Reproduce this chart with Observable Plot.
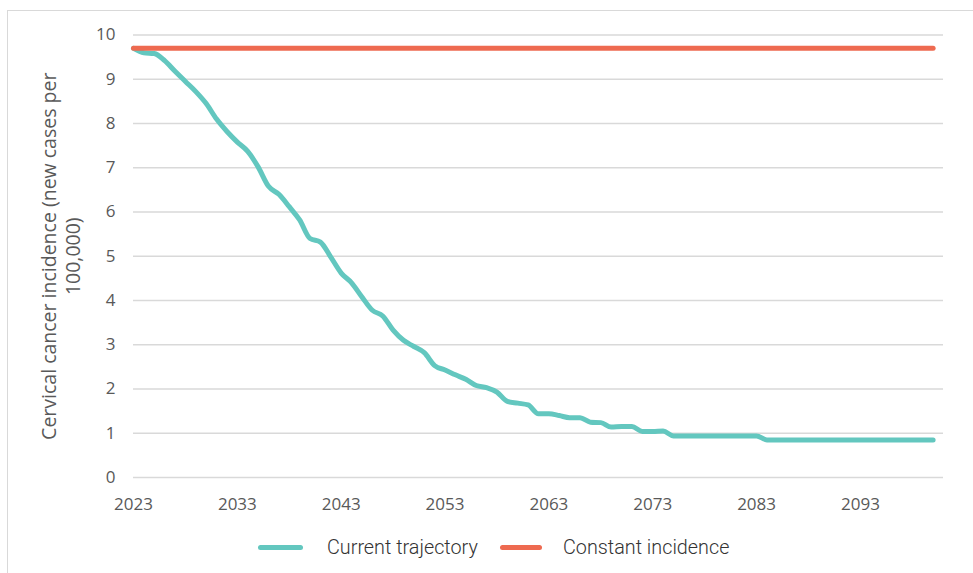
<!DOCTYPE html>
<html><head><meta charset="utf-8">
<script src="https://cdn.jsdelivr.net/npm/d3@7"></script>
<script src="https://cdn.jsdelivr.net/npm/@observablehq/plot@0.6"></script>
<style>
html,body{margin:0;padding:0;background:#fff}
body{width:973px;height:573px;overflow:hidden;position:relative;font-family:"Open Sans",sans-serif}
#frame{position:absolute;left:7px;top:10px;width:990px;height:600px;border-left:1.5px solid #d9d9d9;border-top:1.5px solid #d9d9d9;box-sizing:border-box}
#chart{position:absolute;left:0;top:0}
.sw{position:absolute;height:5px;border-radius:3px;top:545px}
.lt{position:absolute;top:536px;font-family:Roboto,sans-serif;font-weight:300;font-size:19.8px;color:#333;line-height:24px;white-space:nowrap}
</style>
</head><body>
<div id="frame"></div>
<div id="chart"></div>
<div class="sw" style="left:258px;width:45px;background:#63c7bf"></div>
<div class="lt" style="left:327px">Current trajectory</div>
<div class="sw" style="left:500px;width:42px;background:#ee6a50"></div>
<div class="lt" style="left:563px">Constant incidence</div>
<script>
const startYear = 2023;
const endYear = 2100;
const years = d3.range(startYear, endYear + 1);
const currentTrajectory = [
  9.70, 9.60, 9.58, 9.42, 9.18, 8.95, 8.72, 8.45, 8.10, 7.82,
  7.58, 7.37, 7.02, 6.58, 6.40, 6.12, 5.82, 5.40, 5.32, 4.98,
  4.62, 4.40, 4.08, 3.78, 3.65, 3.33, 3.10, 2.96, 2.82, 2.53,
  2.43, 2.32, 2.22, 2.08, 2.03, 1.93, 1.72, 1.68, 1.64, 1.44,
  1.44, 1.40, 1.35, 1.35, 1.25, 1.24, 1.14, 1.15, 1.15, 1.04,
  1.04, 1.05, 0.94, 0.94, 0.94, 0.94, 0.94, 0.94, 0.94, 0.94,
  0.94, 0.85, 0.85, 0.85, 0.85, 0.85, 0.85, 0.85, 0.85, 0.85,
  0.85, 0.85, 0.85, 0.85, 0.85, 0.85, 0.85, 0.85
];
const constantIncidence = 9.7;
const seriesNames = ["Current trajectory", "Constant incidence"];
const seriesColors = ["#63c7bf", "#ee6a50"];
const yTicks = [0,1,2,3,4,5,6,7,8,9,10];
const xTicks = [2023,2033,2043,2053,2063,2073,2083,2093];
const yLabel = "Cervical cancer incidence (new cases per\n100,000)";

const data = [];
years.forEach((yr, i) => {
  data.push({year: yr, value: currentTrajectory[i], series: seriesNames[0]});
});
years.forEach((yr) => {
  data.push({year: yr, value: constantIncidence, series: seriesNames[1]});
});

const chart = Plot.plot({
  width: 973,
  height: 520,
  marginLeft: 133,
  marginRight: 30,
  marginTop: 34.5,
  marginBottom: 43,
  style: {fontFamily: "'Open Sans', sans-serif", fontSize: "17px", color: "#595959", background: "transparent"},
  x: {domain: [2023, 2101]},
  y: {domain: [0, 10]},
  color: {domain: seriesNames, range: seriesColors},
  marks: [
    Plot.gridY(yTicks, {stroke: "#d9d9d9", strokeOpacity: 1, strokeWidth: 1.5}),
    Plot.axisY(yTicks, {tickSize: 0, tickPadding: 18, fill: "#595959", label: null}),
    Plot.axisX(xTicks, {tickSize: 0, tickPadding: 20, tickFormat: d => String(d), fill: "#595959", label: null}),
    Plot.line(data, {x: "year", y: "value", z: "series", stroke: "series", strokeWidth: 5, curve: "monotone-x", strokeLinecap: "round", strokeLinejoin: "round"}),
    Plot.text([yLabel], {frameAnchor: "left", rotate: -90, dx: -73, lineHeight: 1.23, fontSize: 19.5, fill: "#595959", textAnchor: "middle", lineAnchor: "middle"})
  ]
});
document.getElementById("chart").appendChild(chart);
</script>
</body></html>
